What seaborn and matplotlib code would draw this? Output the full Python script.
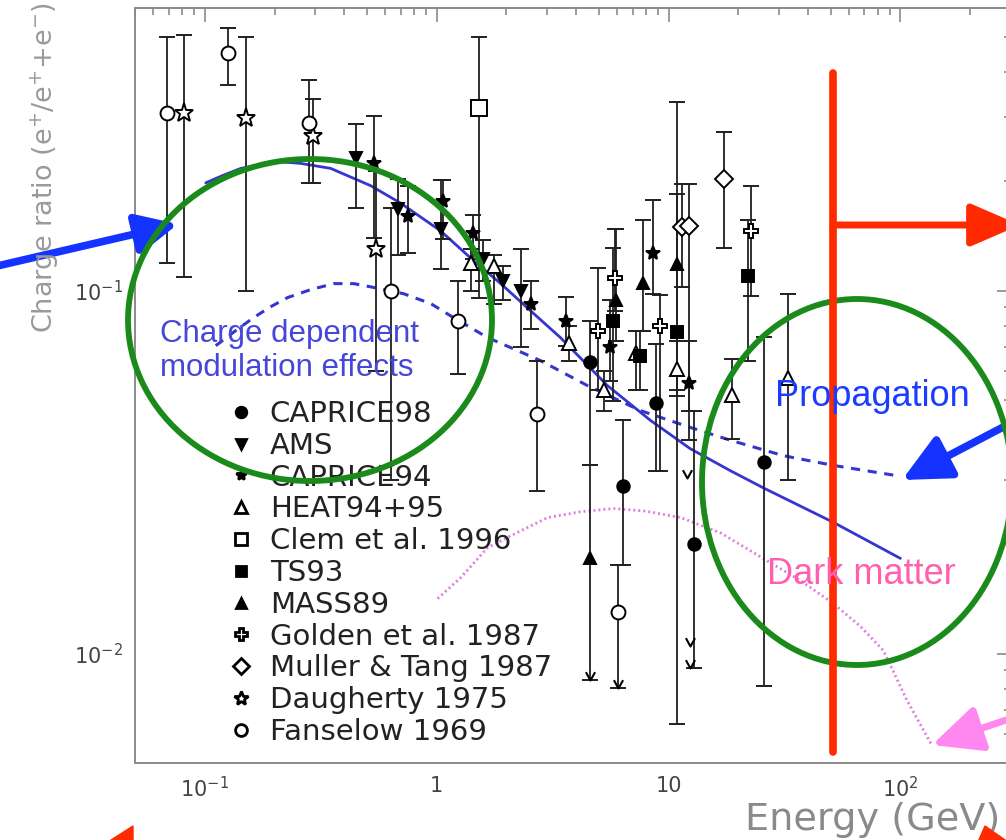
import numpy as np
import matplotlib
matplotlib.use("Agg")
import matplotlib.pyplot as plt
import seaborn as sns
from matplotlib.patches import Ellipse, Polygon
from matplotlib.lines import Line2D
from matplotlib.path import Path
from matplotlib.ticker import FixedLocator, FixedFormatter, LogLocator, NullFormatter

# ---------------- data ----------------
caprice98_x = [4.57, 6.34, 8.79, 12.9, 25.9]
caprice98_y = [0.0634, 0.029, 0.0491, 0.0201, 0.0338]
caprice98_hi = [0.0826, 0.0439, 0.0714, 0.0467, 0.0747]
caprice98_lo = [0.033, 0.0175, 0.0319, 0.00915, 0.00817]

ams_x = [0.448, 0.679, 1.04, 1.58, 1.93, 2.30]
ams_y = [0.232, 0.168, 0.148, 0.1225, 0.1065, 0.100]
ams_hi = [0.288, 0.2035, 0.201, 0.1374, 0.117, 0.1305]
ams_lo = [0.169, 0.125, 0.115, 0.1065, 0.0939, 0.0697]

caprice94_x = [0.535, 0.750, 1.06, 1.43, 2.54, 3.60, 5.62, 8.61, 12.3]
caprice94_y = [0.224, 0.160, 0.177, 0.1436, 0.0921, 0.0826, 0.0697, 0.127, 0.0558]
caprice94_hi = [0.303, 0.1945, 0.201, 0.161, 0.1065, 0.0963, 0.0939, 0.178, 0.0727]
caprice94_lo = [0.140, 0.1265, 0.139, 0.1225, 0.0786, 0.0705, 0.0565, 0.098, 0.0467]

heat_x = [1.40, 1.76, 3.71, 5.25, 7.21, 10.9, 18.7, 32.6]
heat_y = [0.119, 0.117, 0.0719, 0.0531, 0.0671, 0.0610, 0.0517, 0.0575]
heat_hi = [0.1305, 0.125, 0.080, 0.0602, 0.0776, 0.0727, 0.065, 0.098]
heat_lo = [0.100, 0.0921, 0.0641, 0.0467, 0.0531, 0.0514, 0.0389, 0.030]

clem_x = [1.52]
clem_y = [0.319]
clem_hi = [0.498]
clem_lo = [0.0951]

ts93_x = [5.79, 7.57, 10.9, 22.1]
ts93_y = [0.0826, 0.0662, 0.0771, 0.110]
ts93_hi = [0.1314, 0.0776, 0.184, 0.156]
ts93_lo = [0.0498, 0.0531, 0.0531, 0.0641]

mass89_x = [4.57, 5.91, 7.73, 10.9]
mass89_y = [0.0183, 0.0939, 0.105, 0.1187]
mass89_hi = [0.033, 0.148, 0.156, 0.330]
mass89_lo = [0.00844, 0.0727, 0.0776, 0.0064]

golden_x = [4.94, 5.85, 9.15, 22.6]
golden_y = [0.0776, 0.108, 0.080, 0.146]
golden_hi = [0.1157, 0.148, 0.0975, 0.1945]
golden_lo = [0.0531, 0.088, 0.0319, 0.0968]

muller_x = [11.4, 12.3, 17.3]
muller_y = [0.150, 0.151, 0.2035]
muller_hi = [0.197, 0.197, 0.274]
muller_lo = [0.102, 0.0387, 0.1314]

daugherty_x = [0.0812, 0.150, 0.292, 0.546]
daugherty_y = [0.309, 0.298, 0.267, 0.1305]
daugherty_hi = [0.507, 0.498, 0.338, 0.214]
daugherty_lo = [0.109, 0.100, 0.198, 0.060]

fanselow_x = [0.0686, 0.126, 0.281, 0.634, 1.23, 2.72, 6.03]
fanselow_y = [0.309, 0.450, 0.290, 0.100, 0.0826, 0.0458, 0.0130]
fanselow_hi = [0.498, 0.527, 0.379, 0.169, 0.1065, 0.0641, 0.0175]
fanselow_lo = [0.119, 0.369, 0.198, 0.030, 0.059, 0.0281, 0.00805]

# upper-limit arrows
ulim_x = [4.57, 6.03, 12.0, 12.4, 12.4]
ulim_y = [0.00844, 0.00805, 0.0305, 0.0105, 0.00915]

# model curves
total_x = [0.101, 0.1196, 0.143, 0.206, 0.259, 0.349, 0.519, 0.700, 1.04, 1.44, 1.89, 2.54,
           3.42, 5.46, 8.36, 12.4, 18.5, 25.7, 51.4, 100.0]
total_y = [0.198, 0.2075, 0.217, 0.2266, 0.224, 0.217, 0.1945, 0.174, 0.146, 0.121, 0.1045,
           0.088, 0.0742, 0.0547, 0.0439, 0.0367, 0.0319, 0.0286, 0.0230, 0.0183]
prop_x = [0.1115, 0.136, 0.1626, 0.1926, 0.228, 0.2864, 0.360, 0.439, 0.535, 0.721, 0.942,
          1.18, 1.66, 2.81, 4.48, 7.57, 12.4, 18.5, 31.3, 51.4, 97.1]
prop_y = [0.0705, 0.0776, 0.0843, 0.0903, 0.0957, 0.1006, 0.1045, 0.1045, 0.102, 0.098, 0.0921,
          0.0843, 0.0742, 0.0641, 0.0547, 0.0467, 0.0420, 0.0387, 0.0351, 0.033, 0.0309]
dm_x = [1.01, 1.27, 1.66, 2.08, 3.01, 4.18, 5.79, 7.96, 11.3, 16.8, 26.7, 37.1, 51.4, 67.2,
        84.5, 107.0, 137.0]
dm_y = [0.01418, 0.0162, 0.0196, 0.0211, 0.0237, 0.0246, 0.0251, 0.0247, 0.0237, 0.0215,
        0.018, 0.0159, 0.01374, 0.0119, 0.0102, 0.00742, 0.00558]

legend_labels = ["CAPRICE98", "AMS", "CAPRICE94", "HEAT94+95", "Clem et al. 1996", "TS93",
                 "MASS89", "Golden et al. 1987", "Muller & Tang 1987", "Daugherty 1975",
                 "Fanselow 1969"]
xtick_vals = [0.1, 1, 10, 100]
xtick_labels = [r"$10^{-1}$", "1", "10", r"$10^{2}$"]
ytick_vals = [0.01, 0.1]
ytick_labels = [r"$10^{-2}$", r"$10^{-1}$"]

# ---------------- figure ----------------
sns.set_style("white")
plt.rcParams["font.family"] = ["DejaVu Sans"]
plt.rcParams["mathtext.fontset"] = "dejavusans"

W, H = 1006, 840
fig = plt.figure(figsize=(W / 100, H / 100), dpi=100)
ax = fig.add_axes([135 / W, 1 - 763 / H, 876 / W, 755 / H])
ax.set_xscale("log")
ax.set_yscale("log")
ax.set_xlim(0.05, 300)
ax.set_ylim(0.005, 0.6)

gray = "#8a8a8a"
for s in ax.spines.values():
    s.set_color(gray)
    s.set_linewidth(1.4)

# model curves with seaborn
sns.lineplot(x=total_x, y=total_y, ax=ax, color="#3535d0", lw=2.0, sort=False, estimator=None)
sns.lineplot(x=prop_x, y=prop_y, ax=ax, color="#3535d0", lw=2.2, sort=False, estimator=None,
             linestyle=(0, (3, 2.5)))
sns.lineplot(x=dm_x, y=dm_y, ax=ax, color="#e07ae0", lw=2.0, sort=False, estimator=None,
             linestyle=(0, (0.7, 1.1)))

series = [
    (caprice98_x, caprice98_y, caprice98_lo, caprice98_hi, "o", "black", 9),
    (ams_x, ams_y, ams_lo, ams_hi, "v", "black", 9),
    (caprice94_x, caprice94_y, caprice94_lo, caprice94_hi, "*", "black", 10),
    (heat_x, heat_y, heat_lo, heat_hi, "^", "white", 10),
    (clem_x, clem_y, clem_lo, clem_hi, "s", "white", 11),
    (ts93_x, ts93_y, ts93_lo, ts93_hi, "s", "black", 8),
    (mass89_x, mass89_y, mass89_lo, mass89_hi, "^", "black", 8),
    (golden_x, golden_y, golden_lo, golden_hi, "P", "white", 10),
    (muller_x, muller_y, muller_lo, muller_hi, "D", "white", 9),
    (daugherty_x, daugherty_y, daugherty_lo, daugherty_hi, "*", "white", 14),
    (fanselow_x, fanselow_y, fanselow_lo, fanselow_hi, "o", "white", 10),
]
handles = []
for (xs, ys, lo, hi, mk, fc, ms), lab in zip(series, legend_labels):
    xs = np.asarray(xs); ys = np.asarray(ys)
    yerr = [ys - np.asarray(lo), np.asarray(hi) - ys]
    ax.errorbar(xs, ys, yerr=yerr, fmt=mk, ms=ms, mfc=fc, mec="black", mew=1.4,
                ecolor="#202020", elinewidth=1.3, capsize=6, capthick=1.3, zorder=3)
    handles.append(Line2D([], [], ls="none", marker=mk, ms=ms * 0.85 if mk != "*" else ms * 0.75,
                          mfc=fc, mec="black", mew=2.0))

varrow = Path([(-0.55, 1.0), (0, 0), (0.55, 1.0)], [Path.MOVETO, Path.LINETO, Path.LINETO])
ax.plot(ulim_x, ulim_y, ls="none", marker=varrow, ms=12, mfc="none", mec="black", mew=1.5, zorder=3)

# ticks
ax.xaxis.set_major_locator(FixedLocator(xtick_vals))
ax.xaxis.set_major_formatter(FixedFormatter(xtick_labels))
ax.xaxis.set_minor_locator(LogLocator(base=10, subs=np.arange(2, 10)))
ax.xaxis.set_minor_formatter(NullFormatter())
ax.yaxis.set_major_locator(FixedLocator(ytick_vals))
ax.yaxis.set_major_formatter(FixedFormatter(ytick_labels))
ax.yaxis.set_minor_locator(LogLocator(base=10, subs=np.arange(2, 10)))
ax.yaxis.set_minor_formatter(NullFormatter())
ax.tick_params(which="both", direction="in", top=True, right=True, color=gray, width=1.2,
               labelcolor="#444444", labelsize=15)
ax.tick_params(which="major", length=10, pad=9)
ax.tick_params(which="minor", length=5)

# legend
leg = ax.legend(handles, legend_labels, loc="upper left", bbox_to_anchor=(226 / W, 1 - 400 / H),
                bbox_transform=fig.transFigure, frameon=False, fontsize=21, labelspacing=0.13,
                handlelength=1.0, handletextpad=0.5, borderpad=0, borderaxespad=0)
for t in leg.get_texts():
    t.set_color("#222222")

# axis labels
fig.text(45 / W, 1 - 333 / H, r"Charge ratio (e$^{+}$/e$^{+}$+e$^{-}$)", rotation=90,
         ha="center", va="bottom", fontsize=19.5, color="#9a9a9a")
fig.text(745 / W, 1 - 820 / H, "Energy (GeV)", ha="left", va="center", fontsize=27.5,
         color="#8a8a8a")

# ---------------- overlay annotations ----------------
def fx(px):
    return px / W

def fy(py):
    return 1 - py / H

green = "#1a8a1a"
fig.add_artist(Ellipse((fx(310), fy(320)), 364 / W, 322 / H, transform=fig.transFigure,
                       fill=False, ec=green, lw=4.2, zorder=10))
fig.add_artist(Ellipse((fx(857), fy(482)), 310 / W, 366 / H, transform=fig.transFigure,
                       fill=False, ec=green, lw=4.2, zorder=10))

red = "#ff2a00"
fig.add_artist(Line2D([fx(833), fx(833)], [fy(73), fy(752)], transform=fig.transFigure,
                      color=red, lw=5.5, zorder=11))
ax.annotate("", xy=(1020, H - 225), xytext=(833, H - 225), xycoords="figure pixels",
            textcoords="figure pixels", zorder=11,
            arrowprops=dict(arrowstyle="-|>,head_length=1.5,head_width=0.65", color=red, lw=5.0,
                            shrinkA=0, shrinkB=0, mutation_scale=20))
fig.add_artist(Polygon([(fx(108), fy(842)), (fx(133), fy(826)), (fx(133), fy(842))], closed=True,
                       transform=fig.transFigure, color=red, zorder=11))
fig.add_artist(Polygon([(fx(978), fy(842)), (fx(985), fy(826)), (fx(1008), fy(842))], closed=True,
                       transform=fig.transFigure, color=red, zorder=11))

blue = "#1433ff"
ax.annotate("", xy=(178, H - 224), xytext=(-20, H - 270), xycoords="figure pixels",
            textcoords="figure pixels", zorder=11,
            arrowprops=dict(arrowstyle="-|>,head_length=1.25,head_width=0.6", color=blue, lw=5.5,
                            shrinkA=0, shrinkB=0, mutation_scale=20))
ax.annotate("", xy=(902, H - 480), xytext=(1030, H - 413), xycoords="figure pixels",
            textcoords="figure pixels", zorder=11,
            arrowprops=dict(arrowstyle="-|>,head_length=1.45,head_width=0.7", color=blue, lw=5.5,
                            shrinkA=0, shrinkB=0, mutation_scale=20))
ax.annotate("", xy=(932, H - 745), xytext=(1030, H - 712), xycoords="figure pixels",
            textcoords="figure pixels", zorder=11,
            arrowprops=dict(arrowstyle="-|>,head_length=1.5,head_width=0.7", color="#ff88f0",
                            lw=5.0, shrinkA=0, shrinkB=0, mutation_scale=20))

fig.text(fx(160), fy(351), "Charge dependent\nmodulation effects", ha="left", va="center",
         fontsize=22.5, color="#4646d8", family="Liberation Sans", linespacing=1.2, zorder=12)
fig.text(fx(775), fy(396), "Propagation", ha="left", va="center", fontsize=26,
         color="#1a3cff", family="Liberation Sans", zorder=12)
fig.text(fx(767), fy(575), "Dark matter", ha="left", va="center", fontsize=26,
         color="#ff5fae", family="Liberation Sans", zorder=12)

fig.savefig("out.png", dpi=100)
